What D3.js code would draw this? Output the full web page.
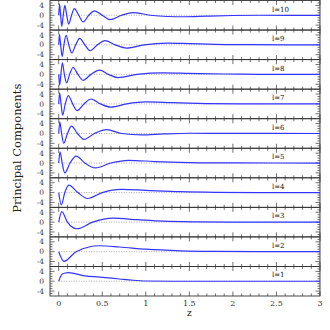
<!DOCTYPE html>
<html>
<head>
<meta charset="utf-8">
<script src="https://cdn.jsdelivr.net/npm/d3@7"></script>
<style>
  body { margin: 0; background: #fff; }
  svg { display: block; }
</style>
</head>
<body>
<svg id="chart" width="330" height="330"></svg>
<script>
// Principal components, one array of [z, value] per l
const pc1 = [[0,0],[0.04,2.9],[0.11,3.5],[0.3,2.2],[0.47,1.7],[0.7,0.9],[0.85,0.4],[1.0,0.1],[1.3,0],[3,0]];
const pc2 = [[0,0],[0.06,-3.9],[0.2,0],[0.47,2.4],[0.7,1.9],[1.0,1.0],[1.4,0.35],[1.8,0.1],[2.3,0],[3,0]];
const pc3 = [[0,0],[0.035,4.3],[0.1,0],[0.21,-2.7],[0.39,0],[0.62,1.6],[0.9,1.0],[1.2,0.4],[1.6,0.1],[2,0],[3,0]];
const pc4 = [[0,0],[0.03,-5],[0.07,0],[0.115,3],[0.22,0],[0.33,-2.4],[0.5,0],[0.72,1.3],[1.0,0.9],[1.4,0.35],[1.8,0.1],[2.3,0],[3,0]];
const pc5 = [[0,0],[0.015,4.5],[0.04,0],[0.07,-4],[0.13,0],[0.2,2.8],[0.3,0],[0.42,-2],[0.6,0],[0.8,1.1],[1.1,0.6],[1.5,0.2],[2,0.03],[3,0]];
const pc6 = [[0,0],[0.012,4.7],[0.033,0],[0.057,-4],[0.1,0],[0.146,3.0],[0.215,0],[0.29,-2.4],[0.41,0],[0.55,1.6],[0.72,0],[0.95,-0.6],[1.2,-0.2],[1.5,0.1],[1.9,0.05],[3,0]];
const pc7 = [[0,0],[0.01,4.5],[0.027,0],[0.045,-4.6],[0.075,0],[0.11,3.4],[0.16,0],[0.21,-2.7],[0.29,0],[0.37,2.0],[0.48,0],[0.6,-1.3],[0.78,0],[1.0,0.8],[1.3,0.5],[1.7,0.15],[2.1,0.03],[3,0]];
const pc8 = [[0,0],[0.01,-4.4],[0.025,0],[0.042,4.7],[0.065,0],[0.09,-3.5],[0.125,0],[0.165,2.8],[0.22,0],[0.28,-2.4],[0.37,0],[0.47,1.7],[0.57,0],[0.68,-1.3],[0.9,0],[1.2,0.6],[1.5,0.4],[1.9,0.15],[2.3,0.03],[3,0]];
const pc9 = [[0,0],[0.008,4.3],[0.022,0],[0.04,-4.7],[0.06,0],[0.085,3.8],[0.115,0],[0.15,-3.3],[0.195,0],[0.24,2.6],[0.3,0],[0.36,-2.4],[0.445,0],[0.53,1.7],[0.65,0],[0.78,-1.3],[0.98,0],[1.25,0.7],[1.5,0.5],[1.8,0.2],[2.2,0.05],[2.6,0],[3,0]];
const pc10 = [[0,0],[0.01,4.5],[0.022,0],[0.035,-4.5],[0.052,0],[0.07,4.0],[0.092,0],[0.115,-3.6],[0.147,0],[0.18,2.7],[0.23,0],[0.28,-2.7],[0.345,0],[0.41,1.8],[0.5,0],[0.59,-1.8],[0.72,0],[0.85,1.1],[1.05,0],[1.25,-0.5],[1.45,-0.6],[1.7,-0.35],[2.0,-0.1],[2.3,0],[3,0]];
const components = [pc10, pc9, pc8, pc7, pc6, pc5, pc4, pc3, pc2, pc1];
const panelLabels = ["l=10", "l=9", "l=8", "l=7", "l=6", "l=5", "l=4", "l=3", "l=2", "l=1"];
const xTicks = [0, 0.5, 1, 1.5, 2, 2.5, 3];
const yTicks = [-4, 0, 4];

const svg = d3.select("#chart");
const plotLeft = 50, plotRight = 320, plotTop = 0.5, plotBottom = 296;
const panelH = (plotBottom - plotTop) / components.length;
const serif = "'DejaVu Serif', 'Liberation Serif', serif";
const frameColor = "#333";

const x = d3.scaleLinear().domain([-0.1, 3]).range([plotLeft, plotRight]);

components.forEach((data, i) => {
    const y0 = plotTop + i * panelH;
    const y = d3.scaleLinear().domain([-6, 6]).range([y0 + panelH, y0]);
    const g = svg.append("g");

    // minor and major ticks along x, top and bottom, pointing inward
    d3.range(0, 31).forEach(k => {
        const v = k / 10;
        const len = k % 5 === 0 ? 4.5 : 2.5;
        g.append("line").attr("x1", x(v)).attr("x2", x(v))
            .attr("y1", y0).attr("y2", y0 + len)
            .attr("stroke", frameColor).attr("stroke-width", 0.7);
        g.append("line").attr("x1", x(v)).attr("x2", x(v))
            .attr("y1", y0 + panelH).attr("y2", y0 + panelH - len)
            .attr("stroke", frameColor).attr("stroke-width", 0.7);
    });
    // ticks along y, left and right
    d3.range(-5, 6).forEach(v => {
        const len = v % 4 === 0 ? 4.5 : 2.5;
        g.append("line").attr("x1", plotLeft).attr("x2", plotLeft + len)
            .attr("y1", y(v)).attr("y2", y(v))
            .attr("stroke", frameColor).attr("stroke-width", 0.7);
        g.append("line").attr("x1", plotRight).attr("x2", plotRight - len)
            .attr("y1", y(v)).attr("y2", y(v))
            .attr("stroke", frameColor).attr("stroke-width", 0.7);
    });

    g.selectAll(".ylab").data(yTicks).join("text")
        .attr("x", plotLeft - 6).attr("y", d => y(d) + 2.6)
        .attr("text-anchor", "end")
        .attr("font-family", serif).attr("font-size", "7.5px")
        .attr("fill", "#333")
        .text(d => d);

    // zero line
    g.append("line").attr("x1", x(0)).attr("x2", x(3))
        .attr("y1", y(0)).attr("y2", y(0))
        .attr("stroke", "#999").attr("stroke-width", 0.8)
        .attr("stroke-dasharray", "1,1.5");

    // component curve
    const line = d3.line().x(d => x(d[0])).y(d => y(d[1])).curve(d3.curveMonotoneX);
    g.append("path").attr("d", line(data))
        .attr("fill", "none").attr("stroke", "#3434ff").attr("stroke-width", 1.2);

    g.append("rect").attr("x", plotLeft).attr("y", y0)
        .attr("width", plotRight - plotLeft).attr("height", panelH)
        .attr("fill", "none").attr("stroke", frameColor).attr("stroke-width", 0.9);

    g.append("text").attr("x", 272).attr("y", y0 + 11)
        .attr("font-family", serif).attr("font-size", "7px").attr("fill", "#111")
        .text(panelLabels[i]);
});

svg.selectAll(".xlab").data(xTicks).join("text")
    .attr("x", d => x(d)).attr("y", 306)
    .attr("text-anchor", "middle")
    .attr("font-family", serif).attr("font-size", "8px").attr("fill", "#333")
    .text(d => d);

svg.append("text").attr("x", x(1.5)).attr("y", 316)
    .attr("text-anchor", "middle")
    .attr("font-family", serif).attr("font-size", "9px").attr("fill", "#222")
    .text("z");

svg.append("text")
    .attr("transform", "translate(21," + (plotTop + plotBottom) / 2 + ") rotate(-90)")
    .attr("text-anchor", "middle")
    .attr("font-family", serif).attr("font-size", "11.5px").attr("fill", "#222")
    .text("Principal Components");
</script>
</body>
</html>
